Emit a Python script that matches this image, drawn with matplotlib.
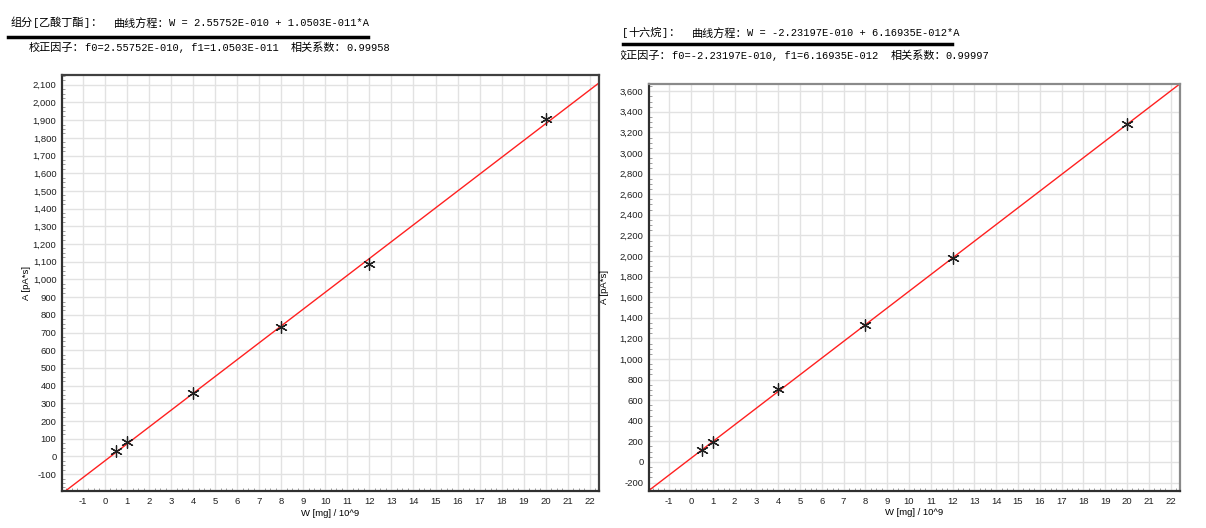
import numpy as np
import matplotlib as mpl
mpl.use('agg')
import matplotlib.pyplot as plt
from matplotlib.ticker import MultipleLocator, FuncFormatter
from matplotlib.transforms import Bbox, TransformedBbox

plt.rcParams['axes.unicode_minus'] = False

## calibration data
w_left = [0.5, 1, 4, 8, 12, 20]
a_left = [30, 79, 359, 734, 1085, 1908]
f0_left = 2.55752e-10
f1_left = 1.0503e-11

w_right = [0.5, 1, 4, 8, 12, 20]
a_right = [116, 197, 706, 1330, 1982, 3280]
f0_right = -2.23197e-10
f1_right = 6.16935e-12

title_left = "组分[乙酸丁酯]：  曲线方程：W = 2.55752E-010 + 1.0503E-011*A"
sub_left = "校正因子：f0=2.55752E-010, f1=1.0503E-011  相关系数：0.99958"
title_right = "[十六烷]：  曲线方程：W = -2.23197E-010 + 6.16935E-012*A"
sub_right = "校正因子：f0=-2.23197E-010, f1=6.16935E-012  相关系数：0.99997"

x_label = "W [mg] / 10^9"
y_label = "A [pA*s]"

tick_font = ['Liberation Sans', 'DejaVu Sans']
W, H = 1206, 528
CJK_PT = 8.0     # full width glyphs
ASC_PT = 7.5     # half width (mono) glyphs

fig = plt.figure(figsize=(W / 100, H / 100), dpi=100)


def is_cjk(c):
    return ord(c) > 0x2E80


def header(x_px, y_px, s, clip_from=None):
    # split into full width / half width runs, like a SimSun line
    runs = []
    for c in s:
        if runs and is_cjk(runs[-1][0][0]) == is_cjk(c):
            runs[-1][0] += c
        else:
            runs.append([c])
    x = x_px
    for (txt,) in runs:
        if is_cjk(txt[0]):
            t = fig.text(x / W, 1 - y_px / H, txt, family='Noto Sans CJK SC',
                         fontsize=CJK_PT, va='center')
            x += len(txt) * CJK_PT * 100 / 72
        else:
            t = fig.text(x / W, 1 - y_px / H, txt, family='Liberation Mono',
                         fontsize=ASC_PT, va='center')
            x += len(txt) * 0.6 * ASC_PT * 100 / 72
        if clip_from is not None:
            t.set_clip_box(TransformedBbox(Bbox([[clip_from / W, 0], [1, 1]]), fig.transFigure))
            t.set_clip_on(True)


def draw_panel(rect, ws, As, f0, f1, xlim, ylim, ystep, spine_col, ylab_x):
    ax = fig.add_axes(rect)
    xs = np.linspace(xlim[0], xlim[1], 50)
    ax.plot(xs, (xs * 1e-9 - f0) / f1, color='#ff2020', lw=1.0, zorder=2)
    ax.scatter(ws, As, marker=(6, 2, 0), s=70, color='#202020', lw=0.9, zorder=3)
    ax.set_xlim(*xlim)
    ax.set_ylim(*ylim)
    ax.xaxis.set_major_locator(MultipleLocator(1))
    ax.yaxis.set_major_locator(MultipleLocator(ystep))
    ax.xaxis.set_minor_locator(MultipleLocator(0.25))
    ax.yaxis.set_minor_locator(MultipleLocator(ystep / 4))
    ax.yaxis.set_major_formatter(FuncFormatter(lambda v, p: '{:,.0f}'.format(v)))
    ax.grid(True, which='major', color='#e2e2e2', lw=1.0, zorder=0)
    ax.tick_params(which='major', length=0, pad=4, labelsize=6.8, colors='#202020')
    ax.tick_params(which='minor', length=2, direction='in', color='#909090')
    for lab in ax.get_xticklabels() + ax.get_yticklabels():
        lab.set_family(tick_font)
    for side, sp in ax.spines.items():
        sp.set_linewidth(1.6)
        sp.set_color(spine_col if side in ('top', 'right') else '#303030')
    ax.set_xlabel(x_label, family=tick_font, fontsize=6.8)
    ax.set_ylabel(y_label, family=tick_font, fontsize=6.8)
    ax.xaxis.set_label_coords(0.5, -0.043)
    ax.yaxis.set_label_coords(ylab_x, 0.5)
    return ax


draw_panel([0.0514, 0.0701, 0.4453, 0.7879], w_left, a_left, f0_left, f1_left,
           (-1.95, 22.42), (-195, 2155), 100, '#404040', -0.058)
draw_panel([0.5381, 0.0701, 0.4403, 0.7708], w_right, a_right, f0_right, f1_right,
           (-1.93, 22.43), (-282, 3670), 200, '#8a8a8a', -0.076)

## header text above each panel
header(11, 23, title_left)
fig.add_artist(plt.Line2D([8 / W, 368 / W], [1 - 37 / H] * 2, color='black', lw=2.5))
header(29, 48, sub_left)

header(622, 33, title_right)
fig.add_artist(plt.Line2D([623 / W, 952 / W], [1 - 44 / H] * 2, color='black', lw=2.5))
header(616, 56, sub_right, clip_from=621)

fig.savefig('out.png', dpi=100)
